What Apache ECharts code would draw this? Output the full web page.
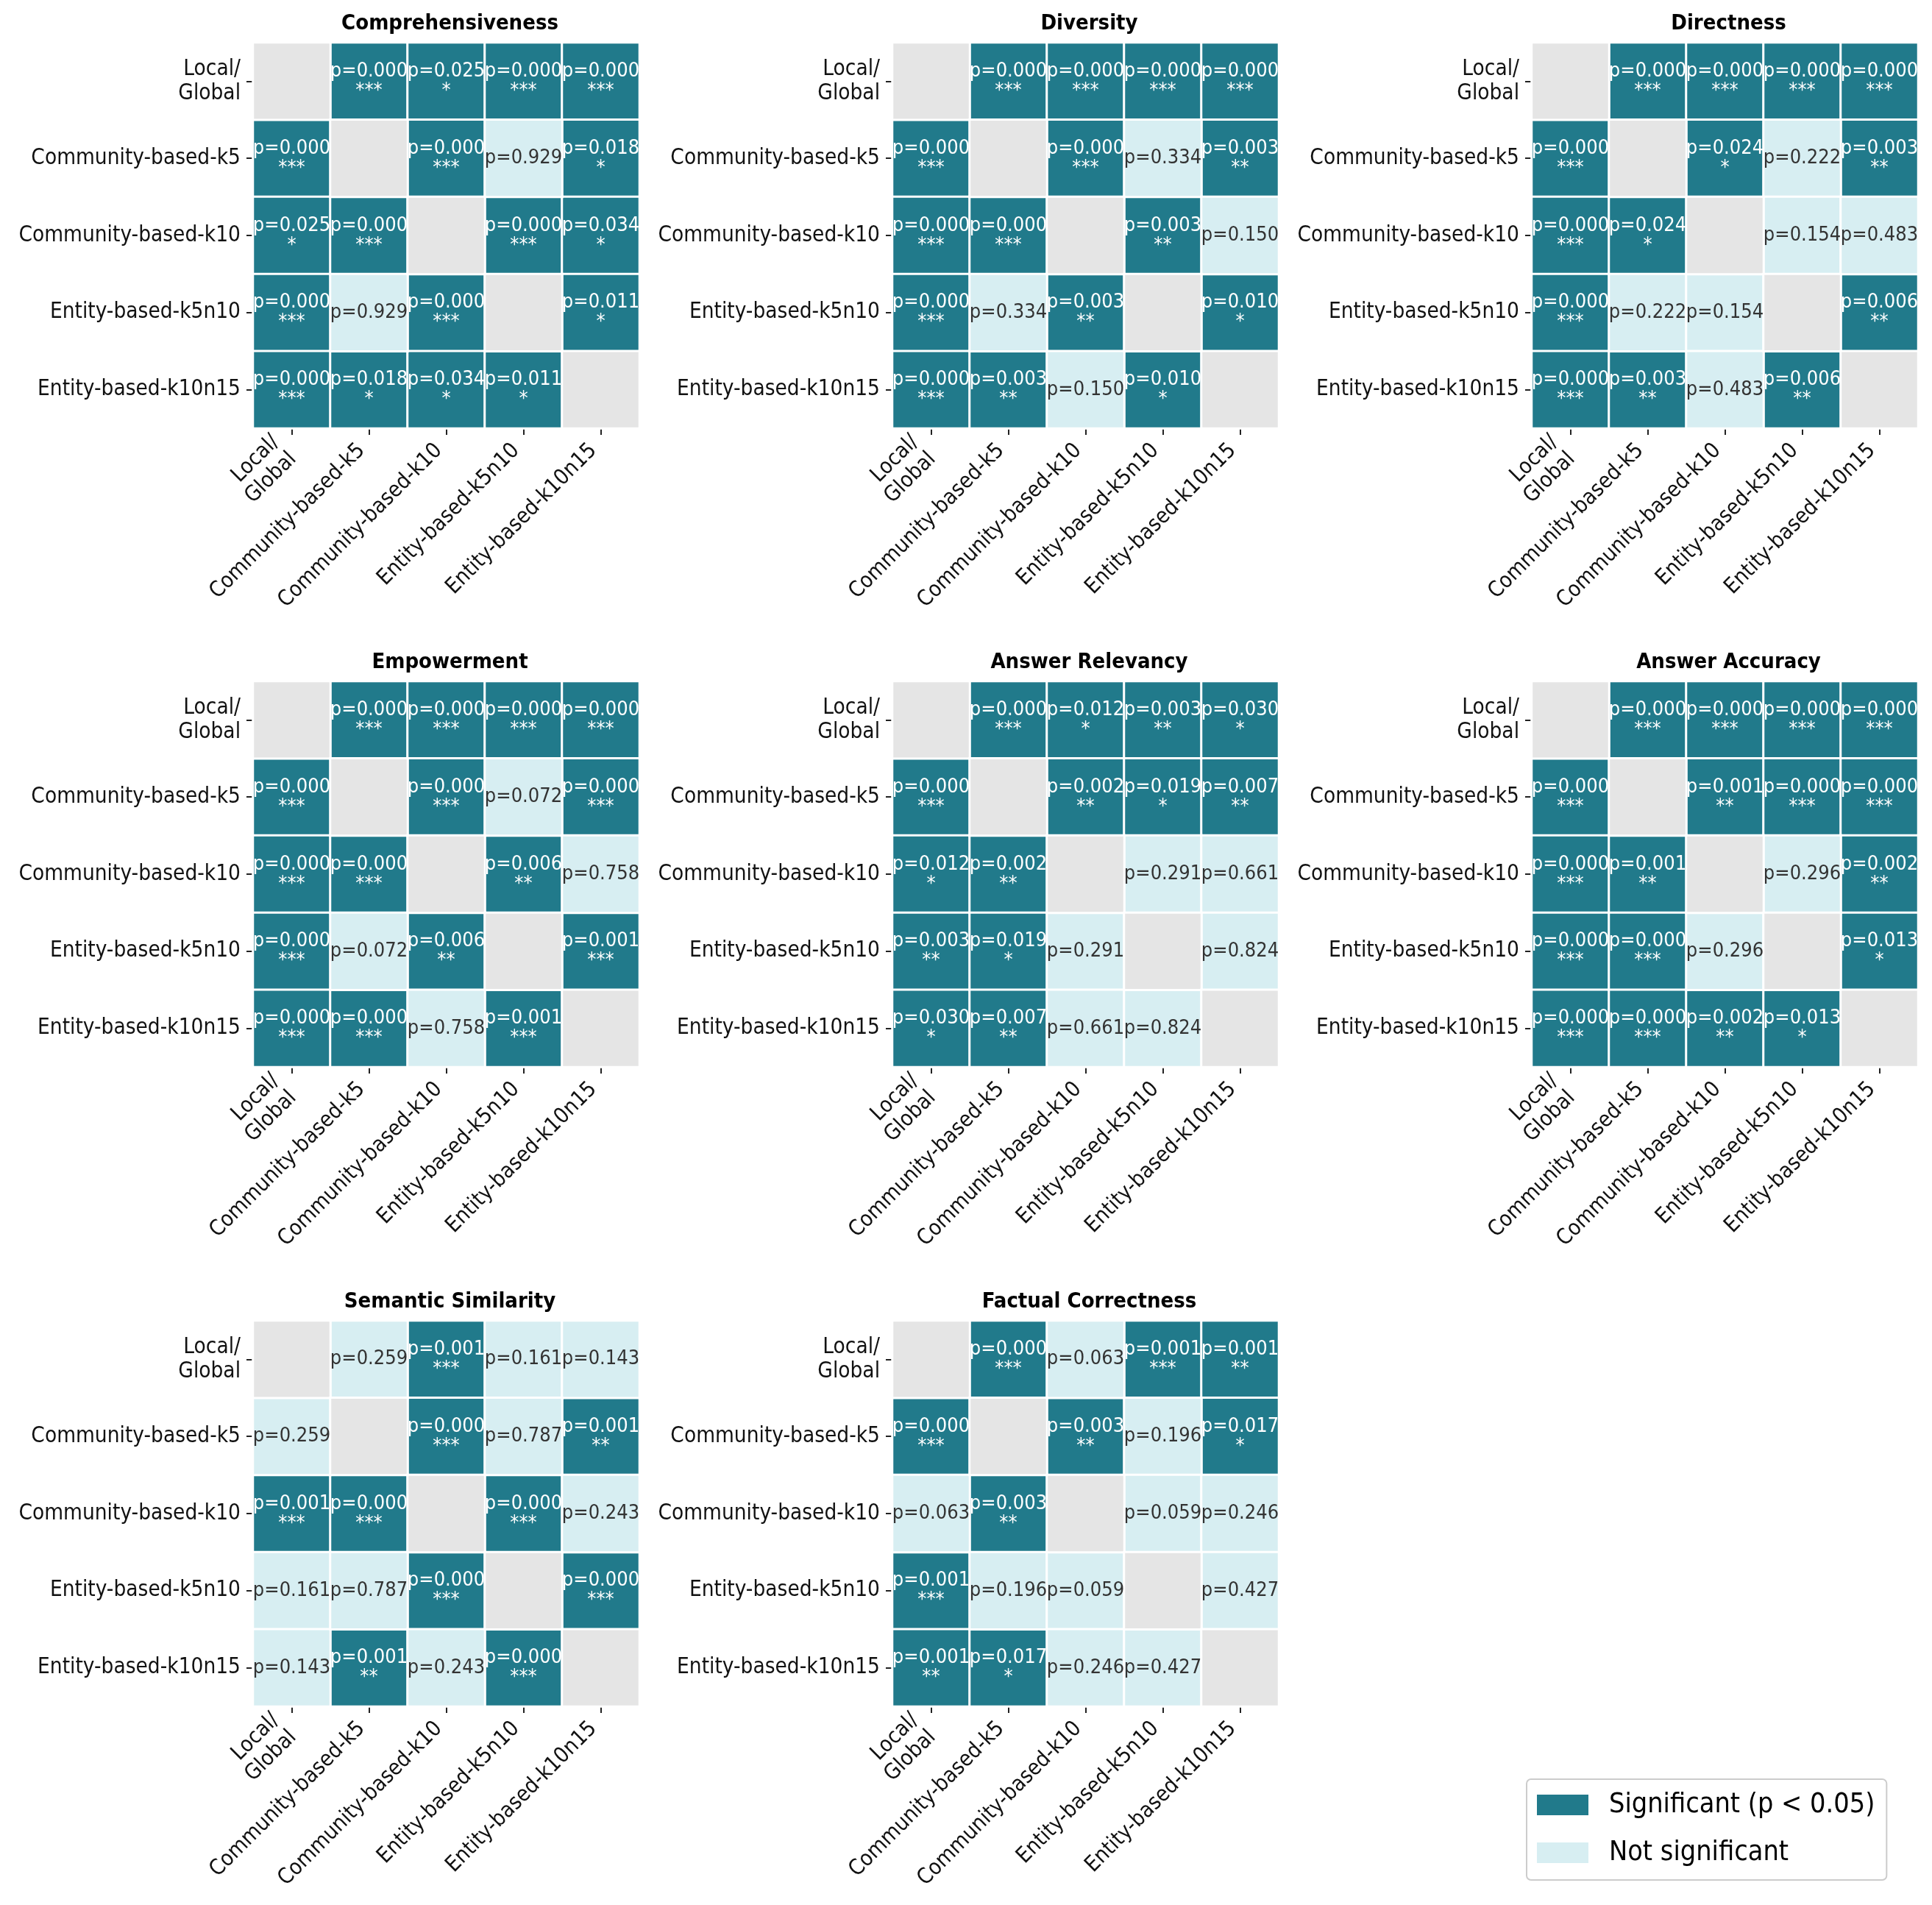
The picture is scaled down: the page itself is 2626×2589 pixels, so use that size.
<!DOCTYPE html>
<html>
<head>
<meta charset="utf-8">
<title>Pairwise significance</title>
<script src="https://cdn.jsdelivr.net/npm/echarts@6/dist/echarts.min.js"></script>
<style>
  html, body { margin: 0; padding: 0; background: #fff; }
  #chart { width: 2626px; height: 2589px; }
</style>
</head>
<body>
<div id="chart"></div>
<script>
// methods compared (same order on both axes)
var methods = ['Local/\nGlobal', 'Community-based-k5', 'Community-based-k10', 'Entity-based-k5n10', 'Entity-based-k10n15'];
// upper-triangle pairs, in the order the p values below are listed
var pairs = [[0, 1], [0, 2], [0, 3], [0, 4], [1, 2], [1, 3], [1, 4], [2, 3], [2, 4], [3, 4]];

var metricNames = ['Comprehensiveness', 'Diversity', 'Directness', 'Empowerment',
  'Answer Relevancy', 'Answer Accuracy', 'Semantic Similarity', 'Factual Correctness'];

var comprehensivenessP = [0.000, 0.025, 0.000, 0.000, 0.000, 0.929, 0.018, 0.000, 0.034, 0.011];
var comprehensivenessStars = ['***', '*', '***', '***', '***', '', '*', '***', '*', '*'];
var diversityP = [0.000, 0.000, 0.000, 0.000, 0.000, 0.334, 0.003, 0.003, 0.150, 0.010];
var diversityStars = ['***', '***', '***', '***', '***', '', '**', '**', '', '*'];
var directnessP = [0.000, 0.000, 0.000, 0.000, 0.024, 0.222, 0.003, 0.154, 0.483, 0.006];
var directnessStars = ['***', '***', '***', '***', '*', '', '**', '', '', '**'];
var empowermentP = [0.000, 0.000, 0.000, 0.000, 0.000, 0.072, 0.000, 0.006, 0.758, 0.001];
var empowermentStars = ['***', '***', '***', '***', '***', '', '***', '**', '', '***'];
var relevancyP = [0.000, 0.012, 0.003, 0.030, 0.002, 0.019, 0.007, 0.291, 0.661, 0.824];
var relevancyStars = ['***', '*', '**', '*', '**', '*', '**', '', '', ''];
var accuracyP = [0.000, 0.000, 0.000, 0.000, 0.001, 0.000, 0.000, 0.296, 0.002, 0.013];
var accuracyStars = ['***', '***', '***', '***', '**', '***', '***', '', '**', '*'];
var similarityP = [0.259, 0.001, 0.161, 0.143, 0.000, 0.787, 0.001, 0.000, 0.243, 0.000];
var similarityStars = ['', '***', '', '', '***', '', '**', '***', '', '***'];
var factualP = [0.000, 0.063, 0.001, 0.001, 0.003, 0.196, 0.017, 0.059, 0.246, 0.427];
var factualStars = ['***', '', '***', '**', '**', '', '*', '', '', ''];

var allP = [comprehensivenessP, diversityP, directnessP, empowermentP, relevancyP, accuracyP, similarityP, factualP];
var allStars = [comprehensivenessStars, diversityStars, directnessStars, empowermentStars,
  relevancyStars, accuracyStars, similarityStars, factualStars];

var SIG = 'Significant (p < 0.05)', NOT_SIG = 'Not significant';
var colSig = '#217a8b', colNot = '#d7eef2', colDiag = '#e5e5e5';
var font = '"DejaVu Sans Condensed", "DejaVu Sans"';

var chart = echarts.init(document.getElementById('chart'));

var colLeft = [344, 1213, 2082];
var rowTop = [58, 926, 1795];
var cellW = 525, cellH = 524;

var grids = [], xAxes = [], yAxes = [], titles = [], series = [];

metricNames.forEach(function (name, k) {
  var c = k % 3, r = Math.floor(k / 3);
  grids.push({
    left: colLeft[c], top: rowTop[r], width: cellW, height: cellH,
    show: true, borderColor: '#222', borderWidth: 2, backgroundColor: 'transparent'
  });
  titles.push({
    text: name, left: colLeft[c] + cellW / 2, top: rowTop[r] - 45, textAlign: 'center',
    textStyle: { fontFamily: font, fontSize: 29, fontWeight: 'bold', color: '#000' }
  });
  xAxes.push({
    type: 'category', gridIndex: k, data: methods,
    axisLine: { show: false },
    axisTick: { show: true, alignWithLabel: true, length: 9, lineStyle: { color: '#222', width: 2 } },
    axisLabel: {
      interval: 0, rotate: 45, margin: 16, fontFamily: font, fontSize: 29.5,
      lineHeight: 33, color: '#111', padding: [0, 14, 0, 0]
    },
    splitLine: { show: false }, splitArea: { show: false }
  });
  yAxes.push({
    type: 'category', gridIndex: k, data: methods, inverse: true,
    axisLine: { show: false },
    axisTick: { show: true, alignWithLabel: true, length: 9, lineStyle: { color: '#222', width: 2 } },
    axisLabel: { interval: 0, margin: 17, fontFamily: font, fontSize: 29.5, lineHeight: 33, color: '#111' },
    splitLine: { show: false }, splitArea: { show: false }
  });

  var sigData = [], notData = [], diagData = [];
  pairs.forEach(function (pr, i) {
    var p = allP[k][i], stars = allStars[k][i];
    var target = stars ? sigData : notData;
    // symmetric matrix: fill both halves
    target.push({ value: [pr[1], pr[0], p], stars: stars });
    target.push({ value: [pr[0], pr[1], p], stars: stars });
  });
  methods.forEach(function (m, i) { diagData.push({ value: [i, i, 1] }); });

  var base = {
    type: 'heatmap', xAxisIndex: k, yAxisIndex: k,
    emphasis: { disabled: true }, animation: false
  };
  series.push(Object.assign({}, base, {
    name: SIG, data: sigData,
    itemStyle: { color: colSig, borderColor: '#fff', borderWidth: 3 },
    label: {
      show: true, color: '#fff', fontFamily: font, fontSize: 27, lineHeight: 27,
      formatter: function (p) { return 'p=' + p.value[2].toFixed(3) + '\n' + p.data.stars; }
    }
  }));
  series.push(Object.assign({}, base, {
    name: NOT_SIG, data: notData,
    itemStyle: { color: colNot, borderColor: '#fff', borderWidth: 3 },
    label: {
      show: true, color: '#333', fontFamily: font, fontSize: 27,
      formatter: function (p) { return 'p=' + p.value[2].toFixed(3); }
    }
  }));
  series.push(Object.assign({}, base, {
    name: 'diagonal', data: diagData,
    itemStyle: { color: colDiag, borderColor: '#fff', borderWidth: 3 },
    label: { show: false }
  }));
});

chart.setOption({
  backgroundColor: '#fff',
  animation: false,
  title: titles,
  grid: grids,
  xAxis: xAxes,
  yAxis: yAxes,
  legend: {
    data: [SIG, NOT_SIG], orient: 'vertical', left: 2075, top: 2418,
    icon: 'rect', itemWidth: 72, itemHeight: 30, itemGap: 27,
    padding: [16, 16, 18, 12], borderColor: '#cccccc', borderWidth: 2, borderRadius: 6,
    backgroundColor: '#fff', selectedMode: false,
    textStyle: { fontFamily: font, fontSize: 37.5, lineHeight: 30, color: '#000', padding: [0, 0, 0, 22] }
  },
  series: series
});
</script>
</body>
</html>
